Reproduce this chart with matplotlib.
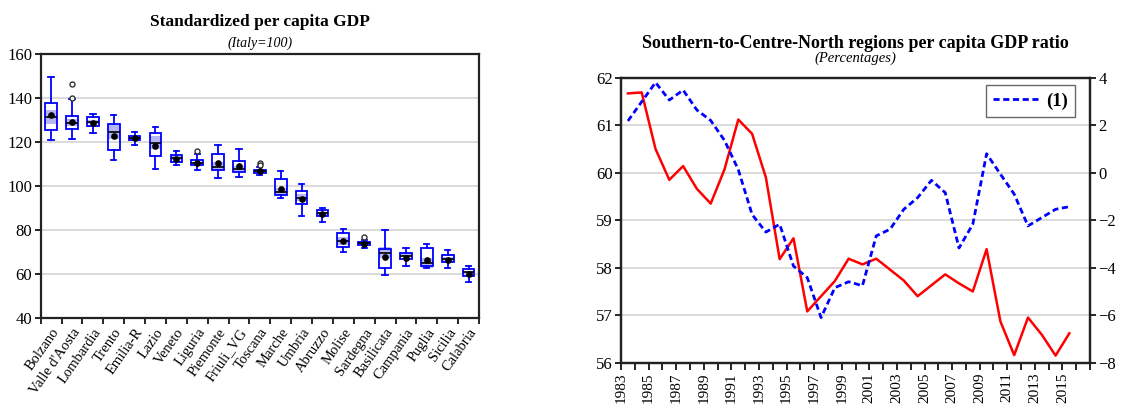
import numpy as np
import matplotlib
matplotlib.use('Agg')
import matplotlib.pyplot as plt
from matplotlib.ticker import FixedLocator

plt.rcParams['font.family'] = ['Liberation Serif', 'DejaVu Serif']

# --- left panel: box plot data (Italy=100) ---
regions = ['Bolzano', "Valle d'Aosta", 'Lombardia', 'Trento', 'Emilia-R', 'Lazio',
           'Veneto', 'Liguria', 'Piemonte', 'Friuli_VG', 'Toscana', 'Marche',
           'Umbria', 'Abruzzo', 'Molise', 'Sardegna', 'Basilicata', 'Campania',
           'Puglia', 'Sicilia', 'Calabria']
whis_hi = [149.8, 139.7, 132.7, 132.3, 124.8, 126.7, 115.8, 114.7, 118.6, 117.1, 108.7,
           106.8, 101.1, 90.2, 80.2, 75.6, 80.0, 71.6, 73.6, 70.8, 63.5]
q3 = [137.7, 132.0, 131.4, 128.2, 122.7, 124.1, 114.1, 112.0, 114.5, 111.5, 107.4,
      103.3, 97.9, 89.2, 78.6, 74.7, 71.5, 69.5, 71.7, 68.5, 62.1]
med = [131.4, 128.9, 129.2, 124.5, 121.8, 119.8, 112.7, 110.5, 108.9, 107.9, 106.7,
       97.3, 94.7, 87.5, 75.1, 74.0, 69.6, 68.2, 64.9, 66.7, 60.6]
q1 = [125.6, 125.9, 127.6, 116.4, 120.9, 113.6, 110.9, 109.7, 107.4, 106.4, 105.9,
      96.0, 91.6, 86.3, 72.2, 73.1, 62.6, 66.9, 63.6, 65.6, 58.9]
whis_lo = [121.2, 121.5, 124.4, 112.1, 118.6, 107.9, 109.4, 107.1, 103.6, 104.1, 105.2,
           94.4, 86.3, 83.5, 69.9, 71.6, 59.4, 63.6, 62.7, 62.7, 56.4]
means = [132.6, 129.4, 128.6, 122.7, 121.8, 118.3, 112.3, 110.5, 110.5, 109.2, 106.7,
         98.6, 94.0, 87.2, 75.1, 73.7, 67.8, 67.3, 66.4, 66.4, 59.8]
outliers = {"Valle d'Aosta": [146.4, 140.3], 'Liguria': [115.8],
            'Toscana': [110.5, 109.8], 'Sardegna': [76.7]}
n_years = 33

# --- right panel: time series ---
years = list(range(1983, 2016))
ratio = [61.67, 61.69, 60.50, 59.85, 60.14, 59.66, 59.35, 60.07, 61.12, 60.82,
         59.90, 58.18, 58.62, 57.08, 57.40, 57.72, 58.19, 58.07, 58.19, 57.96,
         57.73, 57.40, 57.63, 57.86, 57.67, 57.50, 58.39, 56.87, 56.16, 56.95,
         56.59, 56.15, 56.62]
series1 = [2.18, 2.99, 3.80, 3.06, 3.48, 2.64, 2.20, 1.36, 0.13, -1.76,
           -2.50, -2.17, -3.93, -4.42, -6.10, -4.84, -4.59, -4.76, -2.66, -2.38,
           -1.54, -1.05, -0.32, -0.84, -3.17, -2.17, 0.80, -0.06, -0.90, -2.24,
           -1.89, -1.54, -1.43]

fig = plt.figure(figsize=(11.21, 4.05), dpi=100)

# ================= left panel =================
ax = fig.add_axes([0.0363, 0.2156, 0.391, 0.650])
pos = np.arange(1, len(regions) + 1)
stats = []
for i, r in enumerate(regions):
    stats.append(dict(med=med[i], q1=q1[i], q3=q3[i], whislo=whis_lo[i],
                      whishi=whis_hi[i], mean=means[i], fliers=outliers.get(r, [])))

bw = 0.56
# shaded median confidence band
iqr = np.array(q3) - np.array(q1)
half = 1.57 * iqr / np.sqrt(n_years)
ax.bar(pos, 2 * half, bottom=np.array(med) - half, width=bw, color='#b6b6f3',
       edgecolor='none', zorder=2)

ax.bxp(stats, positions=pos, widths=bw, showmeans=True, patch_artist=True,
       capwidths=bw * 0.45, manage_ticks=False,
       boxprops=dict(facecolor='none', edgecolor='#0000ff', linewidth=1.3),
       whiskerprops=dict(color='#0000ff', linewidth=1.3),
       capprops=dict(color='#0000ff', linewidth=1.3),
       medianprops=dict(color='black', linewidth=1.2),
       meanprops=dict(marker='o', markerfacecolor='black', markeredgecolor='black',
                      markersize=3.8),
       flierprops=dict(marker='o', markerfacecolor='white', markeredgecolor='#333333',
                       markersize=3.6, markeredgewidth=1.0),
       zorder=3)

ax.set_xlim(0.5, len(regions) + 0.5)
ax.set_ylim(40, 160)
ax.set_yticks(range(40, 161, 20))
ax.yaxis.grid(True, color='#d4d4d4', linewidth=1.2)
ax.set_axisbelow(True)
ax.xaxis.set_major_locator(FixedLocator(pos))
ax.set_xticklabels(regions, rotation=55, ha='right', va='top',
                   rotation_mode='anchor', fontsize=10.5)
ax.xaxis.set_minor_locator(FixedLocator(np.arange(0.5, len(regions) + 1, 1)))
ax.tick_params(axis='x', which='major', length=0, pad=6)
ax.tick_params(axis='x', which='minor', length=4, width=1.2, direction='out')
ax.tick_params(axis='y', length=4, width=1.2, labelsize=12, pad=2)
for s in ax.spines.values():
    s.set_linewidth(1.6)
    s.set_color('#222222')
fig.text(0.232, 0.945, 'Standardized per capita GDP', ha='center', va='center',
         fontsize=12.5, fontweight='bold')
fig.text(0.232, 0.893, '(Italy=100)', ha='center', va='center',
         fontsize=10, style='italic')

# ================= right panel =================
axr = fig.add_axes([0.554, 0.1044, 0.4184, 0.7037])
x = np.array(years) + 0.5
axr.plot(x, ratio, color='#ff0000', linewidth=1.8, zorder=3)
axr.set_xlim(1983, 2017)
axr.set_ylim(56, 62)
axr.set_yticks(range(56, 63))
axr.yaxis.grid(True, color='#d4d4d4', linewidth=1.2)
axr.set_axisbelow(True)
axr.xaxis.set_major_locator(FixedLocator(range(1983, 2016, 2)))
axr.xaxis.set_minor_locator(FixedLocator(range(1983, 2018)))
axr.tick_params(axis='x', which='major', length=5, width=1.2, labelrotation=90,
                labelsize=11, pad=2)
axr.tick_params(axis='x', which='minor', length=5, width=1.2)
axr.tick_params(axis='y', length=4, width=1.2, labelsize=12, pad=2)

ax2 = axr.twinx()
ax2.plot(x, series1, color='#0000ff', linewidth=2.0, linestyle=(0, (2.2, 1.3)),
         label='(1)', zorder=3)
ax2.set_ylim(-8, 4)
ax2.set_yticks(range(-8, 5, 2))
ax2.tick_params(axis='y', length=4, width=1.2, labelsize=12, pad=2)
leg = ax2.legend(loc='upper right', bbox_to_anchor=(0.968, 0.974), borderaxespad=0,
                 fancybox=False, prop=dict(weight='bold', size=13.5),
                 handlelength=2.4, borderpad=0.4, handletextpad=0.4)
leg.get_frame().set_edgecolor('#444444')
leg.get_frame().set_linewidth(1.0)
for a in (axr, ax2):
    for s in a.spines.values():
        s.set_linewidth(1.6)
        s.set_color('#222222')

fig.text(0.763, 0.893, 'Southern-to-Centre-North regions per capita GDP ratio',
         ha='center', va='center', fontsize=13, fontweight='bold')
fig.text(0.763, 0.855, '(Percentages)', ha='center', va='center',
         fontsize=10.5, style='italic')

fig.savefig('out.png', dpi=100)
